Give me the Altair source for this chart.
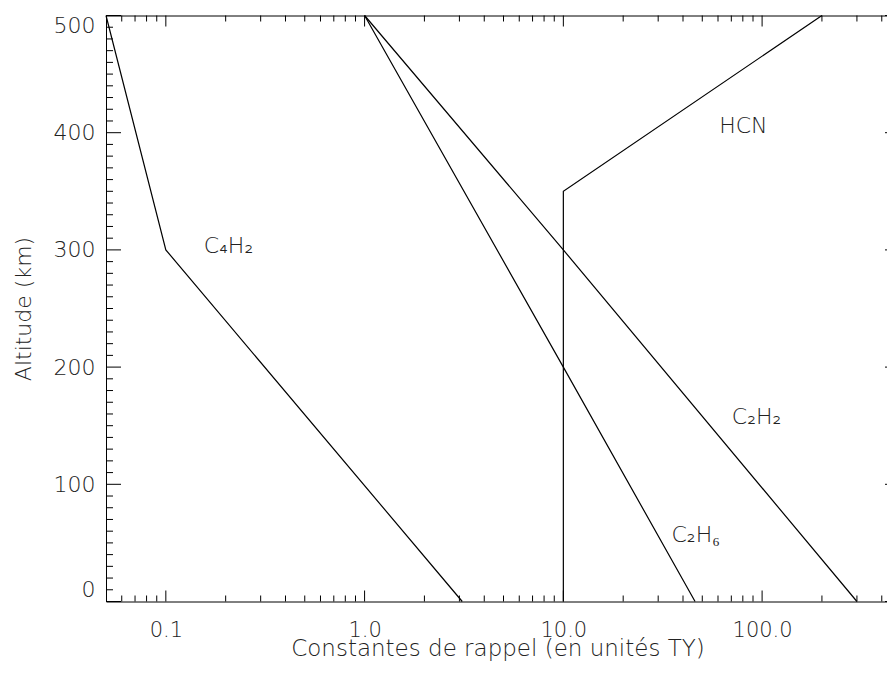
import altair as alt
import pandas as pd

# ---- data ----
c4h2_k = [0.05, 0.1, 3.1]
c4h2_alt = [500, 300, 0]
c2h6_k = [1.0, 10.0, 46.0]
c2h6_alt = [500, 200, 0]
c2h2_k = [1.0, 10.0, 300.0]
c2h2_alt = [500, 300, 0]
hcn_k = [10.0, 10.0, 200.0]
hcn_alt = [0, 350, 500]

label_text = ["HCN", "C\u2084H\u2082", "C\u2082H\u2082", "C\u2082H\u2086"]
label_k = [60.8, 0.155, 70.4, 35.0]
label_alt = [406, 303, 157, 57]

x_major = [0.1, 1.0, 10.0, 100.0]
x_minor = [0.06, 0.07, 0.08, 0.09,
           0.2, 0.3, 0.4, 0.5, 0.6, 0.7, 0.8, 0.9,
           2, 3, 4, 5, 6, 7, 8, 9,
           20, 30, 40, 50, 60, 70, 80, 90,
           200, 300, 400]
y_major = [0, 100, 200, 300, 400, 500]
y_minor = [v for v in range(10, 500, 10) if v % 100 != 0]

x_title = "Constantes de rappel (en unit\u00e9s TY)"
y_title = "Altitude (km)"

# ---- layout ----
FONT = "DejaVu Sans"
TXT = "#222222"
W, H = 781, 586
X_DOM = [0.05, 425]
Y_DOM = [0, 500]
xs = alt.Scale(type="log", domain=X_DOM, nice=False)
ys = alt.Scale(domain=Y_DOM, nice=False, zero=False)

import math
decades = math.log10(X_DOM[1] / X_DOM[0])


def x_after(px):
    """data value px pixels right of the left frame"""
    return X_DOM[0] * 10 ** (px * decades / W)


def y_below(px):
    """data value px pixels below the top frame"""
    return Y_DOM[1] - px * (Y_DOM[1] - Y_DOM[0]) / H


# ---- tables ----
rows = []
for name, ks, alts in [("C4H2", c4h2_k, c4h2_alt), ("C2H6", c2h6_k, c2h6_alt),
                       ("C2H2", c2h2_k, c2h2_alt), ("HCN", hcn_k, hcn_alt)]:
    for i, (k, a) in enumerate(zip(ks, alts)):
        rows.append({"series": name, "k": k, "alt": a, "o": i})
lines = pd.DataFrame(rows)
labels = pd.DataFrame({"t": label_text, "k": label_k, "alt": label_alt})

xmaj_top = pd.DataFrame({"k": x_major, "a0": Y_DOM[1], "a1": y_below(11)})
xmin_top = pd.DataFrame({"k": x_minor, "a0": Y_DOM[1], "a1": y_below(6)})
xmaj = pd.DataFrame({"k": x_major})
xmin = pd.DataFrame({"k": x_minor})
ymaj_left = pd.DataFrame({"alt": y_major, "k0": X_DOM[0], "k1": x_after(15)})
ymin_left = pd.DataFrame({"alt": y_minor, "k0": X_DOM[0], "k1": x_after(7)})
ymaj = pd.DataFrame({"alt": y_major})

main_x = alt.Axis(orient="bottom", values=x_major, format=".1f", ticks=False,
                  domain=True, domainColor="black", domainWidth=1,
                  grid=False, labelPadding=18, labelFlush=False,
                  labelFont=FONT, labelFontSize=21, labelFontWeight=300,
                  labelColor=TXT, title=x_title, titleFont=FONT,
                  titleFontSize=23, titleFontWeight=300, titleColor=TXT,
                  titleX=391.5, titleY=54, titleAlign="center",
                  titleBaseline="alphabetic")
main_y = alt.Axis(orient="left", values=y_major, ticks=False,
                  domain=True, domainColor="black", domainWidth=1,
                  grid=False, labelPadding=11, labelFlush=True,
                  labelFont=FONT, labelFontSize=22, labelFontWeight=300,
                  labelColor=TXT, title=y_title, titleFont=FONT,
                  titleFontSize=22, titleFontWeight=300, titleColor=TXT,
                  titleAngle=270, titleX=-76, titleY=293, titleAlign="center",
                  titleBaseline="alphabetic")
top_frame = alt.Axis(orient="top", domain=True, domainColor="black",
                     domainWidth=1, ticks=False, labels=False, grid=False,
                     title="")

line_main = alt.Chart(lines).mark_line(color="black", strokeWidth=1.2).encode(
    x=alt.X("k:Q", scale=xs, axis=main_x),
    y=alt.Y("alt:Q", scale=ys, axis=main_y),
    detail="series:N",
    order="o:Q",
)
frame_top = alt.Chart(lines).mark_line(strokeOpacity=0).encode(
    x=alt.X("k:Q", scale=xs, axis=top_frame),
    y=alt.Y("alt:Q", scale=ys, axis=None),
    detail="series:N",
    order="o:Q",
)


def rule(df, **enc):
    return alt.Chart(df).mark_rule(color="black", strokeWidth=1).encode(**enc)


ticks = [
    # bottom (inward ticks)
    rule(xmaj, x=alt.X("k:Q", scale=xs, axis=None), y=alt.value(H), y2=alt.value(H - 11)),
    rule(xmin, x=alt.X("k:Q", scale=xs, axis=None), y=alt.value(H), y2=alt.value(H - 6)),
    # top
    rule(xmaj_top, x=alt.X("k:Q", scale=xs, axis=None),
         y=alt.Y("a0:Q", scale=ys, axis=None), y2="a1:Q"),
    rule(xmin_top, x=alt.X("k:Q", scale=xs, axis=None),
         y=alt.Y("a0:Q", scale=ys, axis=None), y2="a1:Q"),
    # left
    rule(ymaj_left, y=alt.Y("alt:Q", scale=ys, axis=None),
         x=alt.X("k0:Q", scale=xs, axis=None), x2="k1:Q"),
    rule(ymin_left, y=alt.Y("alt:Q", scale=ys, axis=None),
         x=alt.X("k0:Q", scale=xs, axis=None), x2="k1:Q"),
    # right (only a sliver shows, as in the cropped original)
    rule(ymaj, y=alt.Y("alt:Q", scale=ys, axis=None), x=alt.value(W), x2=alt.value(W - 2)),
]

text = alt.Chart(labels).mark_text(align="left", baseline="middle", font=FONT,
                                   fontSize=22, fontWeight=300, color=TXT).encode(
    x=alt.X("k:Q", scale=xs, axis=None),
    y=alt.Y("alt:Q", scale=ys, axis=None),
    text="t:N",
)

chart = alt.layer(line_main, frame_top, *ticks, text).resolve_axis(
    x="independent", y="independent"
).properties(
    width=W,
    height=H,
    padding={"left": 98, "top": 7.5, "right": 0, "bottom": 59.5},
    autosize=alt.AutoSizeParams(type="none"),
).configure_view(stroke="transparent")

chart.save("out.html", embed_options={"renderer": "svg", "actions": False})
